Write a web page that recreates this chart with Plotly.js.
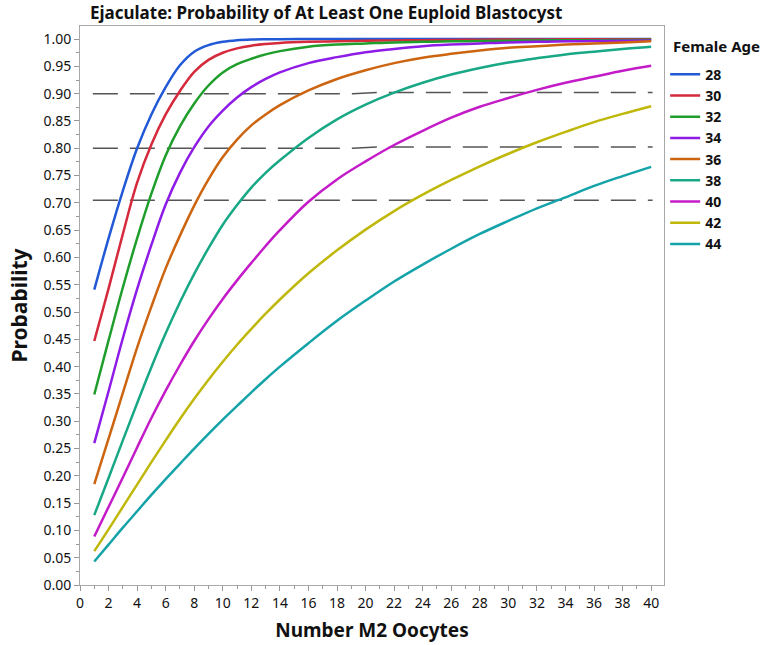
<!DOCTYPE html>
<html>
<head>
<meta charset="utf-8">
<script src="https://cdn.plot.ly/plotly-3.0.1.min.js"></script>
<style>
  html, body { margin: 0; padding: 0; background: #fff; }
  #chart { width: 765px; height: 645px; }
</style>
</head>
<body>
<div id="chart"></div>
<script>
// ---- data ----
const oocytes = [1,2,3,4,5,6,7,8,9,10,11,12,13,14,16,18,20,22,24,26,28,30,32,34,36,38,40];

const femaleAges = ['28','30','32','34','36','38','40','42','44'];

const prob28 = [0.541,0.635,0.722,0.800,0.862,0.912,0.952,0.977,0.989,0.995,0.998,0.9993,0.9997,0.9999,1.0,1.0,1.0,1.0,1.0,1.0,1.0,1.0,1.0,1.0,1.0,1.0,1.0];
const prob30 = [0.447,0.543,0.643,0.737,0.807,0.862,0.905,0.940,0.962,0.975,0.983,0.988,0.991,0.993,0.995,0.996,0.997,0.9975,0.998,0.9985,0.999,0.9992,0.9994,0.9995,0.9996,0.9997,0.9998];
const prob32 = [0.349,0.448,0.545,0.635,0.717,0.787,0.840,0.882,0.915,0.939,0.954,0.964,0.972,0.978,0.986,0.990,0.992,0.994,0.995,0.996,0.9965,0.997,0.9975,0.998,0.998,0.9985,0.999];
const prob34 = [0.260,0.355,0.452,0.542,0.623,0.697,0.755,0.802,0.840,0.869,0.893,0.912,0.927,0.939,0.956,0.967,0.976,0.982,0.987,0.990,0.992,0.994,0.995,0.996,0.9965,0.997,0.9975];
const prob36 = [0.185,0.268,0.352,0.435,0.510,0.580,0.640,0.695,0.743,0.784,0.816,0.842,0.862,0.879,0.906,0.927,0.943,0.956,0.966,0.973,0.979,0.984,0.987,0.990,0.992,0.994,0.996];
const prob38 = [0.128,0.196,0.265,0.333,0.399,0.461,0.518,0.570,0.617,0.660,0.696,0.728,0.755,0.778,0.819,0.853,0.880,0.902,0.920,0.935,0.947,0.957,0.965,0.972,0.977,0.982,0.986];
const prob40 = [0.089,0.143,0.197,0.252,0.306,0.356,0.403,0.447,0.487,0.524,0.558,0.590,0.621,0.650,0.702,0.743,0.776,0.806,0.832,0.856,0.876,0.892,0.907,0.920,0.931,0.942,0.951];
const prob42 = [0.062,0.102,0.143,0.184,0.225,0.265,0.304,0.341,0.376,0.409,0.440,0.469,0.497,0.523,0.571,0.613,0.651,0.685,0.715,0.742,0.767,0.790,0.811,0.830,0.848,0.863,0.877];
const prob44 = [0.043,0.074,0.105,0.135,0.165,0.194,0.222,0.250,0.277,0.303,0.328,0.353,0.377,0.400,0.443,0.484,0.521,0.556,0.587,0.616,0.643,0.667,0.690,0.710,0.731,0.749,0.766];

// dashed reference lines (the upper two have a tiny step near x = 20)
const referenceX = [0.9, 19.1, 20.8, 40.1];
const reference90 = [0.9, 0.9, 0.9024, 0.9024];
const reference80 = [0.8, 0.8, 0.8024, 0.8024];
const reference705 = [0.705, 0.705, 0.705, 0.705];

const xTickLabels = ['0','2','4','6','8','10','12','14','16','18','20','22','24','26','28','30','32','34','36','38','40'];
const yTickLabels = ['0.00','0.05','0.10','0.15','0.20','0.25','0.30','0.35','0.40','0.45','0.50','0.55','0.60','0.65','0.70','0.75','0.80','0.85','0.90','0.95','1.00'];

// ---- styling ----
const seriesColors = ['#2259d6','#d42a3c','#1f9e2c','#8e1ce6','#cc6410','#18a885','#c41bc8','#bfb80a','#14a3a8'];
const allSeries = [prob28, prob30, prob32, prob34, prob36, prob38, prob40, prob42, prob44];
const FONT = '"Noto Sans", "Open Sans", sans-serif';

const traces = [];
[reference90, reference80, reference705].forEach(function (ys) {
  traces.push({
    x: referenceX,
    y: ys,
    mode: 'lines',
    line: { color: '#555555', width: 1.5, dash: '25px,12px' },
    showlegend: false,
    hoverinfo: 'skip'
  });
});
femaleAges.forEach(function (age, i) {
  traces.push({
    x: oocytes,
    y: allSeries[i],
    name: '<b>' + age + '</b>',
    mode: 'lines',
    line: { color: seriesColors[i], width: 2.5, shape: 'spline', smoothing: 1 }
  });
});

const xTickVals = xTickLabels.map(Number);
const yTickVals = yTickLabels.map(Number);

const layout = {
  width: 765,
  height: 645,
  margin: { l: 80, r: 101, t: 26, b: 60, autoexpand: false },
  paper_bgcolor: '#ffffff',
  plot_bgcolor: '#ffffff',
  font: { family: FONT, color: '#111111', size: 14 },
  title: {
    text: '<b>Ejaculate: Probability of At Least One Euploid Blastocyst</b>',
    font: { family: FONT, size: 17, color: '#111111' },
    xref: 'paper', x: 0.017, xanchor: 'left',
    yref: 'container', y: 0.98, yanchor: 'middle'
  },
  xaxis: {
    range: [0, 40.9],
    tickmode: 'array', tickvals: xTickVals, ticktext: xTickLabels,
    ticks: 'outside', ticklen: 5, tickwidth: 1, tickcolor: '#999999',
    minor: { dtick: 1, tick0: 0, ticks: 'outside', ticklen: 3, tickcolor: '#999999', showgrid: false },
    showgrid: false, zeroline: false,
    showline: true, linecolor: '#a8a8a8', linewidth: 1, mirror: true,
    tickfont: { family: FONT, size: 14, color: '#111111' },
    title: { text: '<b>Number M2 Oocytes</b>', font: { family: FONT, size: 19, color: '#111111' }, standoff: 12 }
  },
  yaxis: {
    range: [0, 1.024],
    tickmode: 'array', tickvals: yTickVals, ticktext: yTickLabels,
    ticks: 'outside', ticklen: 5, tickwidth: 1, tickcolor: '#999999',
    minor: { dtick: 0.025, tick0: 0, ticks: 'outside', ticklen: 3, tickcolor: '#999999', showgrid: false },
    showgrid: false, zeroline: false,
    showline: true, linecolor: '#a8a8a8', linewidth: 1, mirror: true,
    tickfont: { family: FONT, size: 14, color: '#111111' },
    title: { text: '<b>Probability</b>', font: { family: FONT, size: 21, color: '#111111' }, standoff: 10 }
  },
  legend: {
    x: 1.002, xanchor: 'left', y: 0.9415, yanchor: 'top',
    font: { family: FONT, size: 14, color: '#111111' },
    itemwidth: 30, tracegroupgap: 0,
    bgcolor: 'rgba(0,0,0,0)'
  },
  annotations: [{
    text: '<b>Female Age</b>',
    xref: 'paper', yref: 'paper', x: 1.012, y: 0.964,
    xanchor: 'left', yanchor: 'middle', showarrow: false,
    font: { family: FONT, size: 15, color: '#111111' }
  }],
  showlegend: true
};

Plotly.newPlot('chart', traces, layout, { displayModeBar: false, staticPlot: true });
</script>
</body>
</html>
